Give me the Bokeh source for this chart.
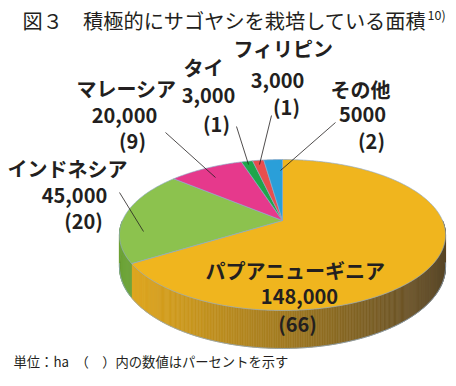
import numpy as np
from bokeh.plotting import figure
from bokeh.models import Range1d
from bokeh.core.properties import value
from bokeh.embed import file_html
from bokeh.resources import INLINE

# ---------------- data ----------------
countries = ["パプアニューギニア", "インドネシア", "マレーシア", "タイ", "フィリピン", "その他"]
areas = [148000, 45000, 20000, 3000, 3000, 5000]
area_labels = ["148,000", "45,000", "20,000", "3,000", "3,000", "5000"]
percents = [66, 20, 9, 1, 1, 2]

title_text = "図３　積極的にサゴヤシを栽培している面積"
title_note = "10)"
footer_text = "単位：ha　（　）内の数値はパーセントを示す"

# ---------------- styles ----------------
top_colors = ["#F0B51E", "#8CC24E", "#E6398C", "#1FA64A", "#E94E4E", "#2A9FD9"]
side_light = [(226, 168, 28), (112, 166, 60), (200, 40, 120), (25, 140, 60), (200, 60, 60), (30, 130, 190)]
side_dark = [(90, 72, 42), (70, 110, 40), (120, 30, 80), (20, 90, 40), (120, 40, 40), (20, 80, 120)]
edge_color = "#8FA9C6"
ink = "#231F20"
FONT = value("Noto Sans CJK JP")

cx, cy = 282.0, 220.0
Rx, Ry, persp = 160.0, 72.7, 0.192
depth = 30.7

# label line centres (x, y) per country, three lines each
label_pos = [
    [(295, 270), (299, 296), (297, 323)],
    [(67, 168), (74, 195), (83, 220)],
    [(126, 88), (124, 115), (132, 140)],
    [(203, 67), (208, 95), (216, 123)],
    [(283, 48), (277, 80), (286, 106)],
    [(360, 89), (362, 114), (371, 140)],
]
# leader lines for small slices (start near label, end inside slice)
leader = {
    1: ((119, 192), (143, 231)),
    2: ((165, 132), (215, 177)),
    3: ((236, 126), (248, 164)),
    4: ((271, 115), (259, 164)),
    5: ((335, 122), (280, 170)),
}


def proj(t_deg, r=1.0):
    t = np.radians(t_deg)
    u = r * np.sin(t)
    v = r * np.cos(t)
    w = 1.0 + persp * v
    return cx + Rx * u / w, cy - Ry * v / w, w


total = float(sum(areas))
bounds = np.concatenate([[0.0], np.cumsum(areas) / total * 360.0])

p = figure(width=456, height=386, output_backend="svg", toolbar_location=None,
           x_range=Range1d(0, 456), y_range=Range1d(386, 0),
           min_border=0, background_fill_color="white")
p.xaxis.visible = False
p.yaxis.visible = False
p.grid.visible = False
p.outline_line_color = None
p.title.visible = False

# ---------------- side wall ----------------
xmin, xmax = cx - Rx * 1.02, cx + Rx * 1.02
sxs, sys_, scol = [], [], []
step = 0.5
angs = np.arange(90.0, 270.0, step)
for a in angs:
    a2 = a + step
    mid = a + step / 2
    k = int(np.searchsorted(bounds, mid) - 1)
    x1, y1, w1 = proj(a)
    x2, y2, w2 = proj(a2)
    d1, d2 = depth / w1, depth / w2
    xm = (x1 + x2) / 2
    t = np.clip((xm - xmin) / (xmax - xmin), 0, 1) ** 1.1
    c0, c1 = side_light[k], side_dark[k]
    col = tuple(int(c0[i] + (c1[i] - c0[i]) * t) for i in range(3))
    hexc = "#%02x%02x%02x" % col
    sxs.append([x1, x2, x2, x1])
    sys_.append([y1, y2, y2 + d2, y1 + d1])
    scol.append(hexc)
p.patches(sxs, sys_, fill_color=scol, line_color=scol, line_width=0.6)

# bottom outline of the wall
ba = np.arange(98.0, 262.0, 0.5)
bx, by, bw = proj(ba)
p.line(bx, by + depth / bw, line_color=edge_color, line_width=0.8)

# ---------------- top face ----------------
txs, tys = [], []
for i in range(len(areas)):
    a = np.linspace(bounds[i], bounds[i + 1], max(3, int((bounds[i + 1] - bounds[i]) * 2)))
    x, y, _ = proj(a)
    txs.append(np.concatenate([[cx], x]).tolist())
    tys.append(np.concatenate([[cy], y]).tolist())
p.patches(txs, tys, fill_color=top_colors, line_color=edge_color, line_width=0.7)

# ---------------- leader lines ----------------
lx0 = [leader[k][0][0] for k in leader]
ly0 = [leader[k][0][1] for k in leader]
lx1 = [leader[k][1][0] for k in leader]
ly1 = [leader[k][1][1] for k in leader]
p.segment(lx0, ly0, lx1, ly1, line_color=ink, line_width=0.8)

# ---------------- labels ----------------
for i in range(len(countries)):
    lines = [countries[i], area_labels[i], "(%d)" % percents[i]]
    xs = [pt[0] for pt in label_pos[i]]
    ys = [pt[1] for pt in label_pos[i]]
    p.text(xs, ys, text=lines, text_font=FONT, text_font_style="bold",
           text_font_size="20px", text_align="center", text_baseline="middle",
           text_color=ink)

# ---------------- title & footer ----------------
p.text([22], [20], text=[title_text], text_font=FONT, text_font_size="20.2px",
       text_align="left", text_baseline="middle", text_color=ink)
p.text([427], [14], text=[title_note], text_font=FONT, text_font_size="12.5px",
       text_align="left", text_baseline="middle", text_color=ink)
p.text([13], [361], text=[footer_text], text_font=FONT, text_font_size="13.3px",
       text_align="left", text_baseline="middle", text_color=ink)

open("out.html", "w").write(file_html(p, INLINE))
